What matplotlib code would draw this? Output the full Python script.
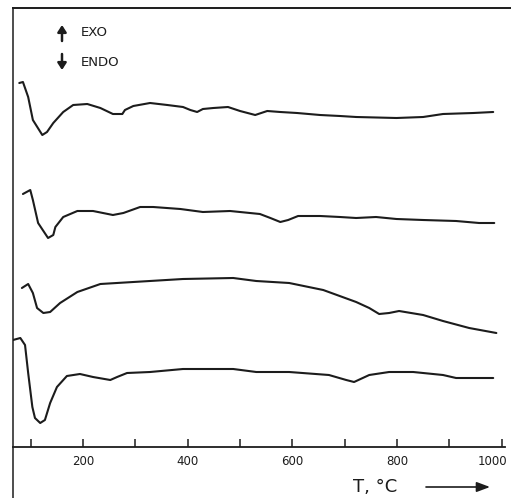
import matplotlib
matplotlib.use("Agg")
import matplotlib.pyplot as plt
import matplotlib.transforms as mtransforms
from matplotlib.patches import FancyArrowPatch
import numpy as np

# ---- data (temperature in °C, DTA signal in arbitrary units) ----
t_a = [78, 85, 95, 104, 122, 131, 143, 162, 181, 208, 233, 257, 275, 280, 296, 328, 361,
       391, 405, 418, 429, 449, 477, 500, 529, 552, 577, 609, 653, 691, 722, 799, 850, 888, 946, 984]
s_a = [364, 365, 350, 327, 312, 315, 324, 335, 342, 343, 339, 333, 333, 337, 341, 344, 342,
       340, 337, 335, 338, 339, 340, 336, 332, 336, 335, 334, 332, 331, 330, 329, 330, 333, 334, 335]

t_b = [85, 99, 104, 114, 133, 143, 147, 162, 189, 219, 257, 277, 309, 334, 386, 429, 481,
       538, 558, 577, 592, 611, 653, 691, 722, 760, 799, 850, 913, 957, 986]
s_b = [253, 257, 247, 224, 209, 212, 220, 230, 236, 236, 232, 234, 240, 240, 238, 235, 236,
       233, 229, 225, 227, 231, 231, 230, 229, 230, 228, 227, 226, 224, 224]

t_c = [83, 95, 104, 112, 124, 137, 156, 189, 233, 296, 391, 487, 531, 594, 659, 722, 747,
       766, 785, 804, 850, 888, 938, 990]
s_c = [159, 163, 154, 139, 134, 135, 144, 155, 163, 165, 168, 169, 166, 164, 157, 145, 139,
       133, 134, 136, 132, 126, 119, 114]

t_d = [66, 80, 89, 95, 103, 108, 118, 127, 137, 150, 169, 194, 219, 252, 265, 284, 328,
       391, 487, 531, 594, 670, 703, 718, 747, 785, 831, 888, 913, 946, 984]
s_d = [107, 109, 102, 74, 40, 29, 24, 27, 44, 60, 71, 73, 70, 67, 70, 74, 75,
       78, 78, 75, 75, 72, 67, 65, 72, 75, 75, 72, 69, 69, 69]

tick_pos = [100, 200, 300, 400, 500, 600, 700, 800, 900, 1000]
tick_lab = ["", "200", "", "400", "", "600", "", "800", "", "1000"]

W, H = 511, 498
fig = plt.figure(figsize=(W / 100, H / 100), dpi=100)
fig.patch.set_facecolor("white")

ax = fig.add_axes([13 / W, 0, 1 - 13 / W, 1 - 8 / H])
ax.set_xlim(66, 1018)
ax.set_ylim(-51, 439)

ink = "#1c1c1c"
for t, s in [(t_a, s_a), (t_b, s_b), (t_c, s_c), (t_d, s_d)]:
    ax.plot(t, s, color=ink, lw=1.5, solid_joinstyle="round", solid_capstyle="round")

ax.spines["right"].set_visible(False)
ax.spines["top"].set_linewidth(1.4)
ax.spines["left"].set_linewidth(1.1)
ax.spines["bottom"].set_linewidth(1.3)
for sp in ax.spines.values():
    sp.set_color(ink)
ax.spines["bottom"].set_position(("data", 0))
ax.spines["bottom"].set_bounds(66, 1006)

ax.set_xticks(tick_pos)
ax.set_xticklabels(tick_lab)
ax.tick_params(axis="x", direction="in", length=6, width=1.1, color=ink,
               pad=6, labelsize=8.5, labelcolor=ink)
ax.set_yticks([])
# nudge the last label so it stays inside the picture
last = ax.get_xticklabels()[-1]
last.set_transform(last.get_transform() +
                   mtransforms.ScaledTranslation(-9 / 100, 0, fig.dpi_scale_trans))

def fx(x):
    return x / W

def fy(y):
    return 1 - y / H

def arrow(p0, p1, style, lw):
    fig.add_artist(FancyArrowPatch((fx(p0[0]), fy(p0[1])), (fx(p1[0]), fy(p1[1])),
                   transform=fig.transFigure, arrowstyle=style, color=ink, lw=lw,
                   mutation_scale=1, shrinkA=0, shrinkB=0))

# EXO / ENDO indicators
arrow((62, 41), (62, 25), "-|>,head_length=4,head_width=2.6", 1.8)
arrow((62, 54), (62, 70), "-|>,head_length=4,head_width=2.6", 1.8)
fig.text(fx(81), fy(32), "EXO", fontsize=9.5, color=ink, va="center", ha="left")
fig.text(fx(81), fy(62), "ENDO", fontsize=9.5, color=ink, va="center", ha="left")

# axis title with arrow
fig.text(fx(375), fy(487), "T, °C", fontsize=13, color=ink, va="center", ha="center")
arrow((426, 487), (490, 487), "-|>,head_length=8,head_width=3", 1.2)

fig.savefig("out.png", dpi=100, facecolor="white")
